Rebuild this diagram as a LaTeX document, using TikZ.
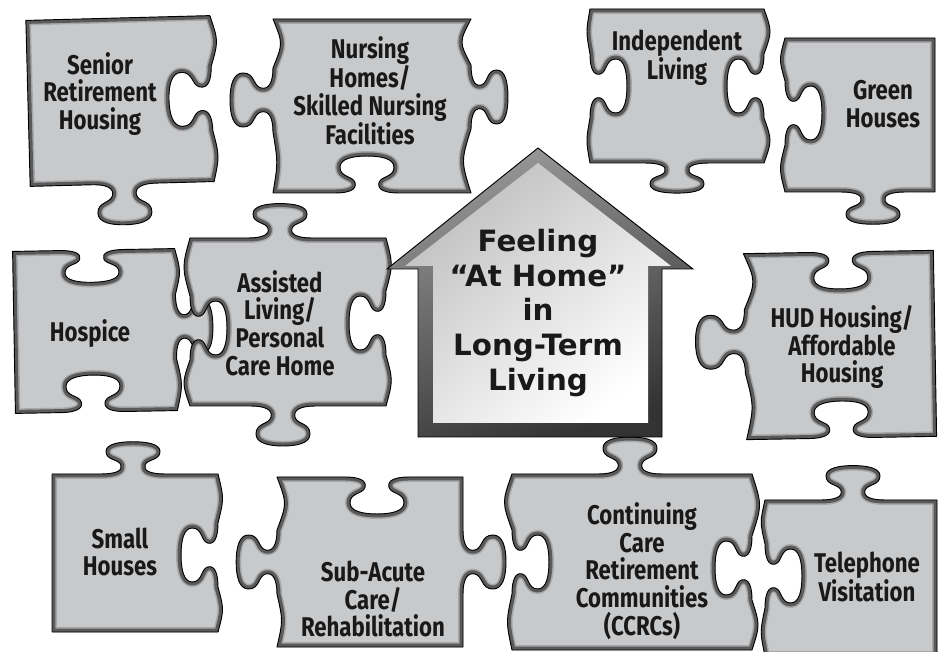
\documentclass[tikz,border=0pt]{standalone}
\usepackage{fontspec}
\setmainfont{DejaVu Sans}
\newfontfamily\lblfont[FakeStretch=0.82]{Fira Sans}
\newfontfamily\housefont{DejaVu Sans}
\definecolor{pfill}{HTML}{C8C9CB}
\definecolor{pband}{HTML}{5A5A5A}
\definecolor{plight}{HTML}{A6A7A9}
\tikzset{
  lbl/.style={align=center, font=\lblfont\bfseries\fontsize{20.3}{20.8}\selectfont, text=black!90, inner sep=0pt},
  houselbl/.style={align=center, font=\housefont\bfseries\fontsize{22}{26.2}\selectfont, text=black!90, inner sep=0pt},
}
% knob template: u along the edge, v outward
\def\knobpath#1{%
 #1{-32}{0} .. controls #1{-18}{0} and #1{-10}{4} .. #1{-12}{12}
 .. controls #1{-14}{20} and #1{-27}{18} .. #1{-27}{30}
 .. controls #1{-27}{40} and #1{-14}{43} .. #1{0}{43}
 .. controls #1{14}{43} and #1{27}{40} .. #1{27}{30}
 .. controls #1{27}{18} and #1{14}{20} .. #1{12}{12}
 .. controls #1{10}{4} and #1{18}{0} .. #1{32}{0}}
% knob frames
\def\mapT#1#2{({\oT+\kz*(#1)},{-\pb-(\sT)*\vT*(#2)})}
\def\mapR#1#2{({\pa+(\sR)*\vR*(#2)},{\oR+\kz*(#1)})}
\def\mapB#1#2{({\oB-\kz*(#1)},{\pb+(\sB)*\vB*(#2)})}
\def\mapL#1#2{({-\pa-(\sL)*\vL*(#2)},{\oL-\kz*(#1)})}
% plain edge frames (u along, v outward)
\def\rawT#1#2{({#1},{-\pb-(#2)})}
\def\rawR#1#2{({\pa+(#2)},{#1})}
\def\rawB#1#2{({-(#1)},{\pb+(#2)})}
\def\rawL#1#2{({-\pa-(#2)},{-(#1)})}
% one side: #1 letter, #2 type, #3 half length, #4 knob offset, #5 wave before, #6 wave after
\def\mkside#1#2#3#4#5#6{%
 \ifnum#2=0
  \expandafter\edef\csname e#1\endcsname{.. controls \csname raw#1\endcsname{0}{#5} ..}%
 \else
  \expandafter\edef\csname e#1\endcsname{.. controls \csname raw#1\endcsname{(-#3+#4-32)/2}{#5} ..
   \knobpath{\csname map#1\endcsname}
   .. controls \csname raw#1\endcsname{(#3+#4+32)/2}{#6} ..}%
 \fi}
\newcommand\piece[8]{%
 \def\pa{#2}\def\pb{#3}%
 \def\oT{0}\def\oR{0}\def\oB{0}\def\oL{0}\def\kz{1}%
 \def\vT{0.86}\def\vR{0.86}\def\vB{0.86}\def\vL{0.86}%
 \def\waT{0}\def\wbT{0}\def\waR{0}\def\wbR{0}\def\waB{0}\def\wbB{0}\def\waL{0}\def\wbL{0}%
 #8%
 \def\sT{#4}\def\sR{#5}\def\sB{#6}\def\sL{#7}%
 \mkside{T}{#4}{\pa}{\oT}{\waT}{\wbT}%
 \mkside{R}{#5}{\pb}{\oR}{\waR}{\wbR}%
 \mkside{B}{#6}{\pa}{-\oB}{\waB}{\wbB}%
 \mkside{L}{#7}{\pb}{-\oL}{\waL}{\wbL}%
 \edef\ppath{(-\pa,-\pb) \eT (\pa,-\pb) \eR (\pa,\pb) \eB (-\pa,\pb) \eL (-\pa,-\pb) -- cycle}%
 \begin{scope}[#1]
  \fill[pfill] \ppath;
  \begin{scope}
   \clip \ppath;
   \draw[plight, line width=7.5pt, line join=round] \ppath;
   \draw[pband, line width=5.2pt, line join=round] \ppath;
  \end{scope}
  \draw[black, line width=0.7pt, line join=round] \ppath;
 \end{scope}}
\begin{document}
\begin{tikzpicture}[x=0.75pt, y=-0.75pt]
\useasboundingbox (0,0) rectangle (940,652);
\fill[white] (0,0) rectangle (940,652);
% top row
\piece{shift={(120,101)}, rotate=1.5}{92}{83}{0}{-1}{1}{0}{\def\oB{2}\def\vR{1}\def\vB{0.95}\def\waR{8}\def\wbR{6}}
\piece{shift={(372,106)}}{99}{87}{0}{1}{-1}{1}{\def\oR{-9}\def\oB{-5}\def\oL{-6}\def\vL{1}\def\waR{-12}\def\wbR{-10}\def\waL{-5}\def\wbL{-10}}
\piece{shift={(677,86)}}{87}{77}{0}{-1}{1}{-1}{\def\vB{0.7}\def\waR{8}\def\wbR{8}\def\waL{4}\def\wbL{4}}
\piece{shift={(860,115)}}{75}{77}{0}{0}{1}{-1}{\def\oB{13}\def\oL{-2}\def\vB{0.75}\def\waL{6}\def\wbL{6}}
% middle row
\piece{shift={(95,331)}, rotate=1}{81}{81}{-1}{1}{-1}{0}{\def\oT{-2}\def\oR{-3}\def\oB{-3}\def\vT{0.75}\def\waR{6}\def\wbR{6}}
\piece{shift={(288,322)}}{98}{84}{1}{-1}{1}{-1}{\def\oT{-8}\def\oR{1}\def\oB{-5}\def\oL{6}\def\vT{0.8}\def\vB{0.93}\def\waL{8}\def\wbL{8}\def\waR{7}\def\wbR{7}}
\piece{shift={(840,345)}, rotate=1}{95}{93}{-1}{0}{-1}{1}{\def\oT{2}\def\oL{-5}\def\vL{1.15}\def\waL{-8}\def\wbL{-12}}
% bottom row
\piece{shift={(135,553)}}{83}{79}{1}{-1}{0}{0}{\def\oT{-2}\def\oR{2}\def\vT{0.75}\def\waR{6}\def\wbR{6}}
\piece{shift={(370,562)}}{93}{85}{-1}{1}{0}{1}{\def\oT{7}\def\vR{1}\def\vL{0.95}\def\waL{-6}\def\wbL{-10}}
\piece{shift={(632,562)}}{120}{88}{1}{-1}{0}{-1}{\def\oT{-2}\def\oR{6}\def\waL{6}\def\wbL{10}\def\waR{10}\def\wbR{8}}
\piece{shift={(851,578)}}{86}{78}{1}{0}{0}{-1}{\def\oT{2}\def\oL{-2}\def\vT{0.8}\def\waL{5}\def\wbL{5}}
% house
\path[draw=black, line width=0.7pt, top color=black!40, bottom color=black!80, shading angle=20]
  (538,148) -- (693,269) -- (662,269) -- (662,437) -- (418,437) -- (418,269) -- (387,269) -- cycle;
\path[top color=black!25, bottom color=white, shading angle=40]
  (538,163) -- (671,266) -- (648,266) -- (648,423) -- (433,423) -- (433,266) -- (405,266) -- cycle;
% labels
\node[houselbl] (home) at (538,313) {Feeling\\“At Home”\\in\\Long-Term\\Living};
\node[lbl] (senior) at (100,94) {Senior\\Retirement\\Housing};
\node[lbl] (nursing) at (370,91) {Nursing\\Homes/\\Skilled Nursing\\Facilities};
\node[lbl] (independent) at (677,58) {Independent\\Living};
\node[lbl] (green) at (883,104) {Green\\Houses};
\node[lbl] (hospice) at (90,334) {Hospice};
\node[lbl] (assisted) at (280,323) {Assisted\\Living/\\Personal\\Care Home};
\node[lbl] (hud) at (842,347) {HUD Housing/\\Affordable\\Housing};
\node[lbl] (small) at (120,552) {Small\\Houses};
\node[lbl] (subacute) at (373,599) {Sub-Acute\\Care/\\Rehabilitation};
\node[lbl] (ccrc) at (642,571) {Continuing\\Care\\Retirement\\Communities\\(CCRCs)};
\node[lbl] (telephone) at (867,577) {Telephone\\Visitation};
\end{tikzpicture}
\end{document}
